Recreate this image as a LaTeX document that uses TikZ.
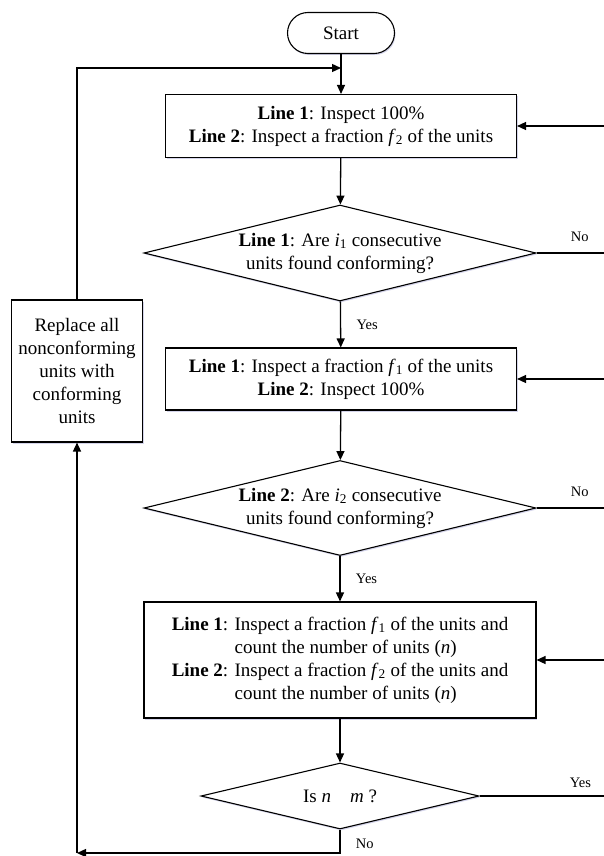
\documentclass[tikz,border=0pt]{standalone}
\usepackage{fontspec}
\setmainfont{Liberation Serif}
\usetikzlibrary{shapes.geometric,arrows.meta,shadows}

\begin{document}
\begin{tikzpicture}[x=1pt, y=-1pt,
  font=\fontsize{19}{23}\selectfont,
  flowline/.style={line width=1.3pt},
  arr/.style={flowline, -{Triangle[length=9pt,width=8pt]}},
  soft/.style={drop shadow={shadow xshift=1pt, shadow yshift=-1.5pt, fill=blue!35!gray, opacity=0.25}},
  procbox/.style={draw, line width=1.1pt, fill=white, soft, align=center, inner sep=0pt},
  decbox/.style={draw, diamond, aspect=4.1, line width=1.1pt, fill=white, soft, align=center, inner sep=0pt},
  small/.style={font=\fontsize{14.5}{17}\selectfont}]
  \useasboundingbox (0,0) rectangle (604,856);

  % boxes and decisions
  \node[procbox, rounded corners=20.5pt, minimum width=107pt, minimum height=41pt] (start) at (341,33) {Start};
  \node[procbox, minimum width=351pt, minimum height=63pt] (box1) at (341,126)
    {\textbf{Line 1}: Inspect 100\%\\ \textbf{Line 2}: Inspect a fraction \textit{f}\textsubscript{2} of the units};
  \node[decbox, minimum width=392pt, minimum height=96pt] (dia1) at (340,253)
    {\textbf{Line 1}: Are \textit{i}\textsubscript{1} consecutive\\ units found conforming?};
  \node[procbox, minimum width=351pt, minimum height=62pt] (box2) at (341,379)
    {\textbf{Line 1}: Inspect a fraction \textit{f}\textsubscript{1} of the units\\ \textbf{Line 2}: Inspect 100\%};
  \node[decbox, minimum width=392pt, minimum height=95pt] (dia2) at (340,508)
    {\textbf{Line 2}: Are \textit{i}\textsubscript{2} consecutive\\ units found conforming?};
  \node[procbox, minimum width=392pt, minimum height=116pt] (box3) at (340,660)
    {\begin{tabular}{@{}r@{\space}l@{}}
      \textbf{Line 1}: & Inspect a fraction \textit{f}\textsubscript{1} of the units and\\
                       & count the number of units (\textit{n})\\
      \textbf{Line 2}: & Inspect a fraction \textit{f}\textsubscript{2} of the units and\\
                       & count the number of units (\textit{n})
     \end{tabular}};
  \node[decbox, minimum width=278pt, minimum height=66pt] (dia3) at (340,796)
    {Is \textit{n}\hspace{1em}\textit{m} ?};
  \node[procbox, minimum width=131pt, minimum height=142pt] (rep) at (77,371)
    {Replace all\\ nonconforming\\ units with\\ conforming\\ units};

  % junctions and free ends
  \coordinate (j1) at (341,68);
  \coordinate (jb) at (77,853);
  \coordinate (e1) at (604,126);
  \coordinate (e2) at (604,253);
  \coordinate (e3) at (604,379);
  \coordinate (e4) at (604,508);
  \coordinate (e5) at (604,660);
  \coordinate (e6) at (604,796);

  % connectors
  \draw[arr] (start.south) -- (box1.north);
  \draw[arr] (rep.north) |- (j1);
  \draw[arr] (box1) -- (dia1);
  \draw[arr] (dia1) -- node[small, right=12pt] {Yes} (box2);
  \draw[flowline] (dia1.east) -- node[small, pos=0.64, above=7pt] {No} (e2);
  \draw[arr] (e1) -- (box1.east);
  \draw[arr] (box2) -- (dia2);
  \draw[arr] (dia2) -- node[small, right=12pt] {Yes} (box3);
  \draw[flowline] (dia2.east) -- node[small, pos=0.64, above=7pt] {No} (e4);
  \draw[arr] (e3) -- (box2.east);
  \draw[arr] (e5) -- (box3.east);
  \draw[arr] (box3) -- (dia3);
  \draw[flowline] (dia3.east) -- node[small, pos=0.81, above=4pt] {Yes} (e6);
  \draw[arr] (dia3.south) |- node[small, pos=0.3, right=12pt] {No} (jb);
  \draw[arr] (jb) -- (rep.south);
\end{tikzpicture}
\end{document}
